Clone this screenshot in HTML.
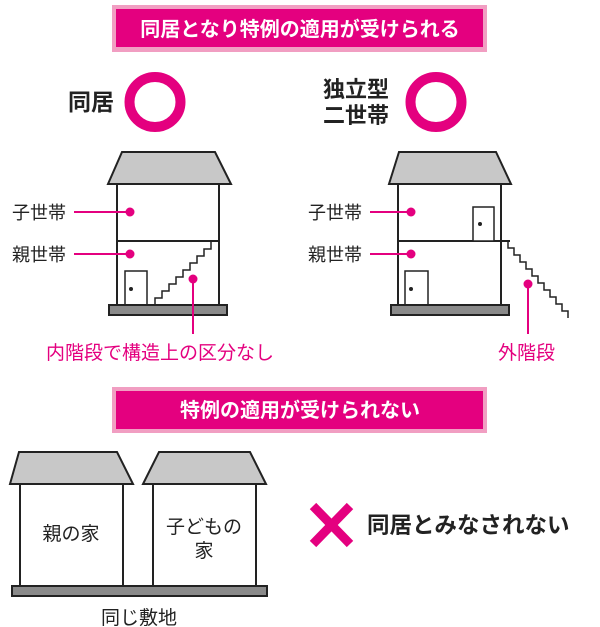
<!DOCTYPE html>
<html><head><meta charset="utf-8"><style>
html,body{margin:0;padding:0;background:#fff;}
svg{display:block;}
text{font-family:"Liberation Sans","Noto Sans CJK JP",sans-serif;}
</style></head><body>
<svg width="600" height="627" viewBox="0 0 600 627" xmlns="http://www.w3.org/2000/svg">
<!-- top banner -->
<rect x="112" y="5" width="375" height="47" fill="#f19ec2"/>
<rect x="116" y="9" width="367" height="38" fill="#e4007f"/>
<text x="300" y="36" font-size="20" font-weight="bold" fill="#fff" text-anchor="middle">同居となり特例の適用が受けられる</text>

<text x="68" y="110" font-size="23" font-weight="bold" fill="#222">同居</text>
<ellipse cx="155" cy="102" rx="25.5" ry="25" fill="none" stroke="#e4007f" stroke-width="10"/>
<text x="323" y="97" font-size="22" font-weight="bold" fill="#222">独立型</text>
<text x="323" y="123" font-size="22" font-weight="bold" fill="#222">二世帯</text>
<ellipse cx="436" cy="102" rx="25.5" ry="25" fill="none" stroke="#e4007f" stroke-width="10"/>

<g stroke="#222" stroke-width="2">
<!-- house 1 -->
<polygon points="122,152 215,152 231,184 108,184" fill="#c8c8c8"/>
<rect x="117" y="184" width="102" height="121" fill="#fff"/>
<line x1="117" y1="241" x2="219" y2="241"/>
<rect x="125" y="271" width="22" height="34" fill="#fff" stroke-width="1.5"/>
<polyline fill="none" stroke-width="1.5" points="155,305 155,298 162,298 162,291 169,291 169,284 176,284 176,277 183,277 183,270 190,270 190,263 197,263 197,256 204,256 204,249 211,249 211,242"/>
<rect x="109" y="305" width="118" height="10" fill="#8a8a8a"/>
<!-- house 2 -->
<polygon points="399,152 496,152 511,184 389,184" fill="#c8c8c8"/>
<rect x="398" y="184" width="103" height="121" fill="#fff"/>
<line x1="398" y1="241" x2="510" y2="241"/>
<rect x="473" y="207" width="21" height="34" fill="#fff" stroke-width="1.5"/>
<rect x="405" y="271" width="23" height="34" fill="#fff" stroke-width="1.5"/>
<polyline fill="none" stroke-width="1.5" points="508,241 508,248 514,248 514,255 520,255 520,262 526,262 526,269 532,269 532,276 538,276 538,283 544,283 544,290 550,290 550,297 556,297 556,304 562,304 562,311 568,311 568,318"/>
<rect x="391" y="305" width="118" height="10" fill="#8a8a8a"/>
<!-- lower houses -->
<polygon points="19,452 117,452 133,484 10,484" fill="#c8c8c8"/>
<rect x="20" y="484" width="103" height="102" fill="#fff"/>
<polygon points="159,452 250,452 266,484 143,484" fill="#c8c8c8"/>
<rect x="153" y="484" width="103" height="102" fill="#fff"/>
<rect x="12" y="586" width="255" height="10" fill="#8a8a8a"/>
</g>
<g fill="#222">
<circle cx="131" cy="289" r="2"/>
<circle cx="480" cy="224" r="2"/>
<circle cx="411" cy="289" r="2"/>
</g>
<!-- pink markers -->
<g stroke="#e4007f" stroke-width="2" fill="#e4007f">
<line x1="74" y1="212" x2="130" y2="212"/><circle cx="130" cy="212" r="4.5" stroke="none"/>
<line x1="74" y1="254" x2="130" y2="254"/><circle cx="130" cy="254" r="4.5" stroke="none"/>
<line x1="193" y1="279" x2="193" y2="334"/><circle cx="193" cy="279" r="4.5" stroke="none"/>
<line x1="370" y1="212" x2="411" y2="212"/><circle cx="411" cy="212" r="4.5" stroke="none"/>
<line x1="370" y1="254" x2="411" y2="254"/><circle cx="411" cy="254" r="4.5" stroke="none"/>
<line x1="528" y1="284" x2="528" y2="334"/><circle cx="528" cy="284" r="4.5" stroke="none"/>
</g>
<g font-size="18" fill="#222">
<text x="12" y="219">子世帯</text>
<text x="12" y="261">親世帯</text>
<text x="308" y="219">子世帯</text>
<text x="308" y="261">親世帯</text>
</g>
<text x="46" y="359" font-size="19" fill="#e4007f">内階段で構造上の区分なし</text>
<text x="498" y="359" font-size="19" fill="#e4007f">外階段</text>

<!-- second banner -->
<rect x="112" y="387" width="375" height="46" fill="#f19ec2"/>
<rect x="116" y="391" width="367" height="38" fill="#e4007f"/>
<text x="300" y="417" font-size="20" font-weight="bold" fill="#fff" text-anchor="middle">特例の適用が受けられない</text>

<text x="71" y="540" font-size="19" fill="#222" text-anchor="middle">親の家</text>
<text x="204" y="533" font-size="19" fill="#222" text-anchor="middle">子どもの</text>
<text x="204" y="557" font-size="19" fill="#222" text-anchor="middle">家</text>
<text x="139" y="624" font-size="19" fill="#222" text-anchor="middle">同じ敷地</text>

<g stroke="#e4007f" stroke-width="9">
<line x1="313" y1="506" x2="350" y2="544"/>
<line x1="350" y1="506" x2="313" y2="544"/>
</g>
<text x="367" y="533" font-size="22.5" font-weight="bold" fill="#222">同居とみなされない</text>
</svg>
</body></html>
